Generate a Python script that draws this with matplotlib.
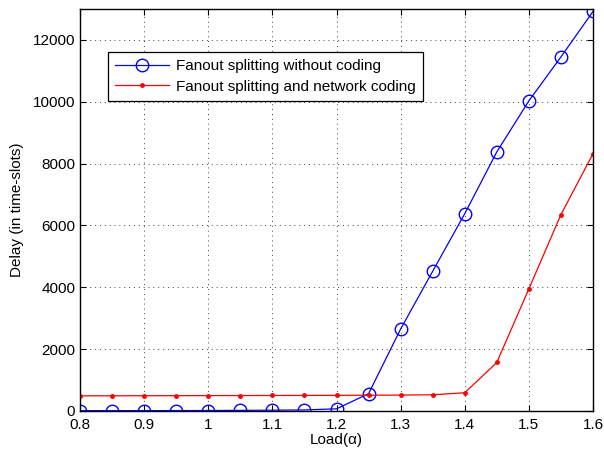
import numpy as np
import matplotlib
matplotlib.use("Agg")
import matplotlib.pyplot as plt

plt.rcParams['font.family'] = ['Liberation Sans', 'DejaVu Sans']

# load values (alpha)
load = [0.8, 0.85, 0.9, 0.95, 1.0, 1.05, 1.1, 1.15, 1.2, 1.25, 1.3, 1.35, 1.4, 1.45, 1.5, 1.55, 1.6]
# delay in time-slots
delay_no_coding = [10, 11, 12, 14, 16, 20, 26, 35, 70, 560, 2650, 4520, 6380, 8380, 10030, 11450, 12920]
delay_net_coding = [490, 492, 494, 496, 498, 500, 502, 504, 506, 510, 515, 525, 590, 1570, 3950, 6350, 8320]

fig = plt.figure(figsize=(6.04, 4.53), dpi=100)
ax = fig.add_axes([80/604, 42/453, 513/604, 402/453])

ax.plot(load, delay_no_coding, color='blue', marker='o', markersize=9,
        markerfacecolor='none', markeredgecolor='blue', linewidth=0.9,
        label='Fanout splitting without coding')
ax.plot(load, delay_net_coding, color='red', marker='.', markersize=5,
        linewidth=0.9, label='Fanout splitting and network coding')

ax.set_xlim(0.8, 1.6)
ax.set_ylim(0, 13000)
ax.set_xticks(np.arange(0.8, 1.61, 0.1))
ax.set_xticklabels(['0.8', '0.9', '1', '1.1', '1.2', '1.3', '1.4', '1.5', '1.6'])
ax.set_yticks(np.arange(0, 12001, 2000))
ax.grid(True, linestyle=(0, (1, 4)), color='#444444', linewidth=0.7)
ax.tick_params(direction='in', labelsize=11, top=True, right=True, length=4)
ax.tick_params(axis='x', pad=5)
for s in ax.spines.values():
    s.set_linewidth(1.0)

ax.set_xlabel('Load(α)', fontsize=11, labelpad=1)
ax.set_ylabel('Delay (in time-slots)', fontsize=11, labelpad=6)

leg = ax.legend(loc='upper left', bbox_to_anchor=(0.055, 0.893), fontsize=11,
                fancybox=False, framealpha=1, edgecolor='black',
                borderpad=0.45, handlelength=3.5, handletextpad=0.5,
                labelspacing=0.45, borderaxespad=0)
leg.get_frame().set_linewidth(0.9)

fig.savefig('out.png', dpi=100)
